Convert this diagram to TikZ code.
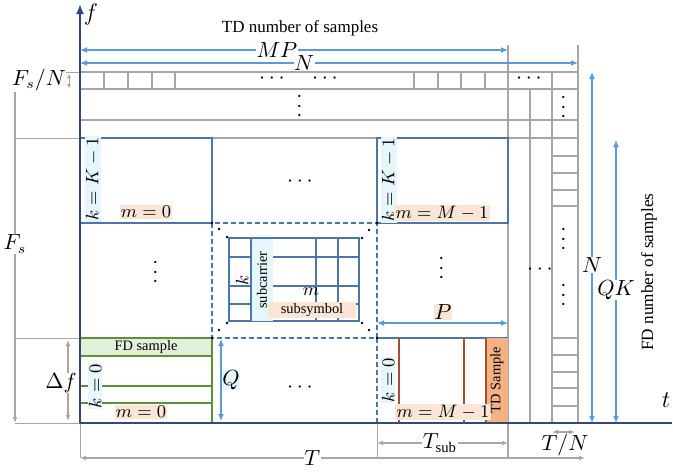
\documentclass[tikz,border=0pt]{standalone}
\usepackage{fontspec}
\setmainfont{Liberation Serif}
\usetikzlibrary{arrows.meta}
\definecolor{Navy}{HTML}{2F4A7A}
\definecolor{Steel}{HTML}{4A76A8}
\definecolor{Sky}{HTML}{5B9BD5}
\definecolor{Ash}{HTML}{A6A6A6}
\definecolor{Moss}{HTML}{5E8F3A}
\definecolor{Mint}{HTML}{E2F0D9}
\definecolor{Rust}{HTML}{A5502A}
\definecolor{Apricot}{HTML}{F4B183}
\definecolor{Peach}{HTML}{FBE5D6}
\definecolor{Ice}{HTML}{E6F7FB}
\tikzset{
    skyarr/.style={Sky,line width=.6pt,{Latex[length=3.5pt,width=3pt]}-{Latex[length=3.5pt,width=3pt]}},
    asharr/.style={Ash,line width=.6pt,{Latex[length=3pt,width=2.4pt]}-{Latex[length=3pt,width=2.4pt]}},
    mlabel/.style={font=\fontsize{9}{10}\selectfont,inner sep=.6pt,fill=Peach},
    klabel/.style={font=\fontsize{9}{10}\selectfont,inner sep=.6pt,fill=Ice,rotate=90},
    dimlabel/.style={font=\fontsize{10.5}{12}\selectfont,inner sep=.3pt,fill=white,text=black},
    smalltext/.style={font=\fontsize{7.2}{8}\selectfont,inner sep=.5pt},
    dotsnode/.style={font=\fontsize{11}{12}\selectfont,inner sep=0pt},
}

\begin{document}
\begin{tikzpicture}[x=.5pt,y=-.5pt]
    \useasboundingbox (0,0) rectangle (673,471);
    \draw[Ash,line width=.5pt] (15,72) -- (80,72) (15,138) -- (80,138) (15,338) -- (80,338) (15,423) -- (80,423);
    \draw[Ash,line width=1pt] (80,72) rectangle (578,89);
    \foreach \x in {104,128,152,175,414,438,461,485}
        \draw[Ash,line width=1pt] (\x,72) -- (\x,89);
    \draw[Ash,line width=.6pt] (80,120) -- (578,120) (80,138) -- (578,138);
    \draw[Ash,line width=.6pt] (530,89) -- (530,423);
    \draw[Ash,line width=1pt] (552,72) -- (552,423);
    \foreach \y in {156,173,190,206,338,355,372,388,406}
        \draw[Ash,line width=.8pt] (552,\y) -- (578,\y);
    \draw[Ash,line width=1pt] (508,45) -- (508,458) (578,45) -- (578,423);
    \draw[Ash,line width=.5pt] (80,423) -- (80,458) (377,423) -- (377,458);

    \draw[Steel,line width=.9pt] (80,138) rectangle (212,223);
    \draw[Steel,line width=.9pt] (377,138) rectangle (508,223);
    \draw[Steel,line width=.8pt,dash pattern=on 2.5pt off 1.5pt] (212,223) rectangle (377,338);
    \draw[Steel,line width=.8pt,dash pattern=on 2.5pt off 1.5pt] (377,338) -- (377,423);
    \draw[Steel,line width=.9pt] (377,338) -- (508,338);

    \fill[Mint] (80,338) rectangle (212,356);
    \draw[Moss,line width=.8pt] (80,338) rectangle (212,423) (80,356) -- (212,356) (80,386) -- (212,386) (80,403) -- (212,403);
    \fill[Apricot] (486,338) rectangle (508,423);
    \draw[Rust,line width=.8pt] (399,338) -- (399,423) (464,338) -- (464,423) (486,338) -- (486,423);

    \fill[Ice] (251,238) rectangle (273,321);
    \draw[Steel,line width=1pt] (229,238) rectangle (359,321);
    \foreach \x in {251,316,338}
        \draw[Steel,line width=.9pt] (\x,238) -- (\x,321);
    \foreach \y in {257,286,304}
        \draw[Steel,line width=.9pt] (229,\y) -- (359,\y);
    \foreach \p in {(212,223),(219,229),(227,237),(377,223),(369,230),(362,238),(212,338),(219,330),(227,323),(377,338),(369,330),(362,323)}
        \fill \p circle (1.3);

    \draw[Navy,line width=1.1pt,-{Latex[length=5pt,width=4pt]}] (80,423) -- (80,4);
    \draw[Navy,line width=1.1pt] (80,423) -- (672,423);
    \node[font=\fontsize{13}{14}\selectfont,inner sep=0pt] (flab) at (91,14) {$f$};
    \node[font=\fontsize{13}{14}\selectfont,inner sep=0pt] (tlab) at (666,400) {$t$};

    \node[font=\fontsize{8.5}{10}\selectfont] (tdnum) at (300,28) {TD number of samples};
    \node[font=\fontsize{8.6}{10}\selectfont,rotate=90] (fdnum) at (649,272) {FD number of samples};

    \draw[skyarr] (80,50) -- node[dimlabel,pos=.46] (mp) {$MP$} (508,50);
    \draw[skyarr] (80,63) -- node[dimlabel,pos=.45] (ntop) {$N$} (578,63);
    \draw[skyarr] (592,72) -- node[dimlabel,pos=.55] (nright) {$N$} (592,423);
    \draw[skyarr] (616,140) -- node[dimlabel,pos=.53] (qk) {$QK$} (616,423);
    \draw[skyarr] (377,323) -- (508,323);
    \node[dimlabel,fill=Peach] (plab) at (443,312) {$P$};
    \draw[skyarr] (221,339) -- (221,421);
    \node[dimlabel,fill=Ice] (qlab) at (231,380) {$Q$};

    \draw[asharr] (15,72) -- node[dimlabel,pos=.49] (fs) {$F_s$} (15,423);
    \node[dimlabel] (fsn) at (39,80) {$F_s/N$};
    \draw[Ash,line width=.5pt,{Latex[length=2pt,width=2.2pt]}-{Latex[length=2pt,width=2.2pt]}] (69,74) -- (69,88);
    \draw[asharr] (68,340) -- (68,421);
    \node[dimlabel] (df) at (61,383) {$\Delta f$};
    \draw[asharr] (80,458) -- node[dimlabel,pos=.46] (tt) {$T$} (585,458);
    \draw[asharr] (377,443) -- node[dimlabel,pos=.48] (tsub) {$T_{\mathrm{sub}}$} (508,443);
    \draw[asharr] (552,432) -- (575,432);
    \node[dimlabel,fill=none] (tn) at (565,445) {$T/N$};

    \node[klabel] (kA) at (93,179) {$k=K-1$};
    \node[mlabel] (mA) at (146,212) {$m=0$};
    \node[klabel] (kB) at (389,180) {$k=K-1$};
    \node[mlabel] (mB) at (442,213) {$m=M-1$};
    \node[klabel] (kC) at (95,386) {$k=0$};
    \node[mlabel] (mC) at (141,412) {$m=0$};
    \node[klabel] (kD) at (388,380) {$k=0$};
    \node[mlabel] (mD) at (443,412) {$m=M-1$};
    \node[smalltext] (fdsample) at (146,347) {FD sample};
    \node[smalltext,rotate=90] (tdsample) at (497,380) {TD Sample};

    \node[smalltext,rotate=90,fill=Ice,minimum width=41pt,minimum height=10.5pt] (subcar) at (262,280) {subcarrier};
    \node[font=\fontsize{9}{10}\selectfont,rotate=90,inner sep=0pt] (kin) at (242,280) {$k$};
    \node[font=\fontsize{9}{10}\selectfont,inner sep=0pt] (min) at (311,292) {$m$};
    \node[smalltext,fill=Peach,minimum width=44pt,minimum height=8pt] (subsym) at (312,310) {subsymbol};

    \node[dotsnode] (dA) at (272,79) {$\cdots$};
    \node[dotsnode] (dB) at (325,79) {$\cdots$};
    \node[dotsnode] (dC) at (529,79) {$\cdots$};
    \node[dotsnode] (dD) at (300,182) {$\cdots$};
    \node[dotsnode] (dE) at (300,388) {$\cdots$};
    \node[dotsnode] (dF) at (540,270) {$\cdots$};
    \node[dotsnode,rotate=90] (vA) at (300,106) {$\cdots$};
    \node[dotsnode,rotate=90] (vB) at (564,107) {$\cdots$};
    \node[dotsnode,rotate=90] (vC) at (156,272) {$\cdots$};
    \node[dotsnode,rotate=90] (vD) at (442,268) {$\cdots$};
    \node[dotsnode,rotate=90] (vE) at (564,239) {$\cdots$};
    \node[dotsnode,rotate=90] (vF) at (564,295) {$\cdots$};
\end{tikzpicture}
\end{document}
